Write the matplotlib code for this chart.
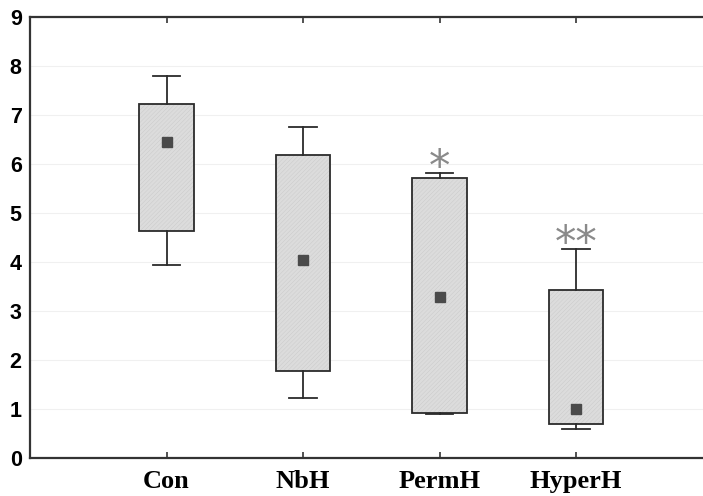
import matplotlib
matplotlib.use('Agg')
import matplotlib.pyplot as plt

# 数据
groups = ['Con', 'NbH', 'PermH', 'HyperH']
whisker_low = [3.94, 1.22, 0.88, 0.59]
box_low = [4.63, 1.77, 0.90, 0.69]
means = [6.46, 4.03, 3.28, 0.99]
box_high = [7.22, 6.19, 5.72, 3.43]
whisker_high = [7.80, 6.76, 5.82, 4.27]
marks = ['', '', '*', '**']

plt.rcParams['hatch.linewidth'] = 0.3

fig = plt.figure(figsize=(7.03, 4.96), dpi=100, facecolor='white')
ax = fig.add_axes([0.0427, 0.0776, 0.9573, 0.8875])

positions = list(range(1, len(groups) + 1))

# 箱体底纹（浅灰细斜线）
heights = [hi - lo for lo, hi in zip(box_low, box_high)]
ax.bar(positions, heights, bottom=box_low, width=0.4, color='#dcdcdc',
       edgecolor='#c8c8c8', linewidth=0, hatch='////////', zorder=1.5)

stats = []
for g, wl, q1, m, q3, wh in zip(groups, whisker_low, box_low, means, box_high, whisker_high):
    stats.append(dict(label=g, whislo=wl, q1=q1, med=m, mean=m, q3=q3, whishi=wh, fliers=[]))

ax.bxp(stats, positions=positions, widths=0.4, capwidths=0.2, patch_artist=True,
       showmeans=True, showfliers=False,
       boxprops=dict(facecolor='none', edgecolor='#2b2b2b', linewidth=1.3),
       whiskerprops=dict(color='#2b2b2b', linewidth=1.3),
       capprops=dict(color='#2b2b2b', linewidth=1.3),
       medianprops=dict(linewidth=0),
       meanprops=dict(marker='s', markersize=6.5, markerfacecolor='#4a4a4a',
                      markeredgecolor='#4a4a4a'))

# 显著性标注
for x, wh, mk in zip(positions, whisker_high, marks):
    if mk:
        ax.text(x, wh + 0.09, mk, ha='center', va='center', fontsize=31,
                color='#8a8a8a', family='DejaVu Sans')

ax.set_xlim(0, 4.93)
ax.set_ylim(0, 9)
ax.set_yticks(range(0, 10))
ax.yaxis.grid(True, color='#f0f0f0', linewidth=0.8)
ax.set_axisbelow(True)

ax.set_xticks(positions)
ax.set_xticklabels(groups, family='Liberation Serif', fontweight='bold', fontsize=19)
for lab in ax.get_yticklabels():
    lab.set_family('Liberation Sans')
    lab.set_fontweight('bold')
    lab.set_fontsize(15.5)

ax.tick_params(axis='x', direction='in', length=4, width=1.2, top=True, pad=9, color='#333333')
ax.tick_params(axis='y', length=0, pad=6)

for side in ['left', 'bottom', 'top']:
    ax.spines[side].set_linewidth(1.6)
    ax.spines[side].set_color('#333333')
ax.spines['right'].set_visible(False)

plt.savefig('out.png', dpi=100)
